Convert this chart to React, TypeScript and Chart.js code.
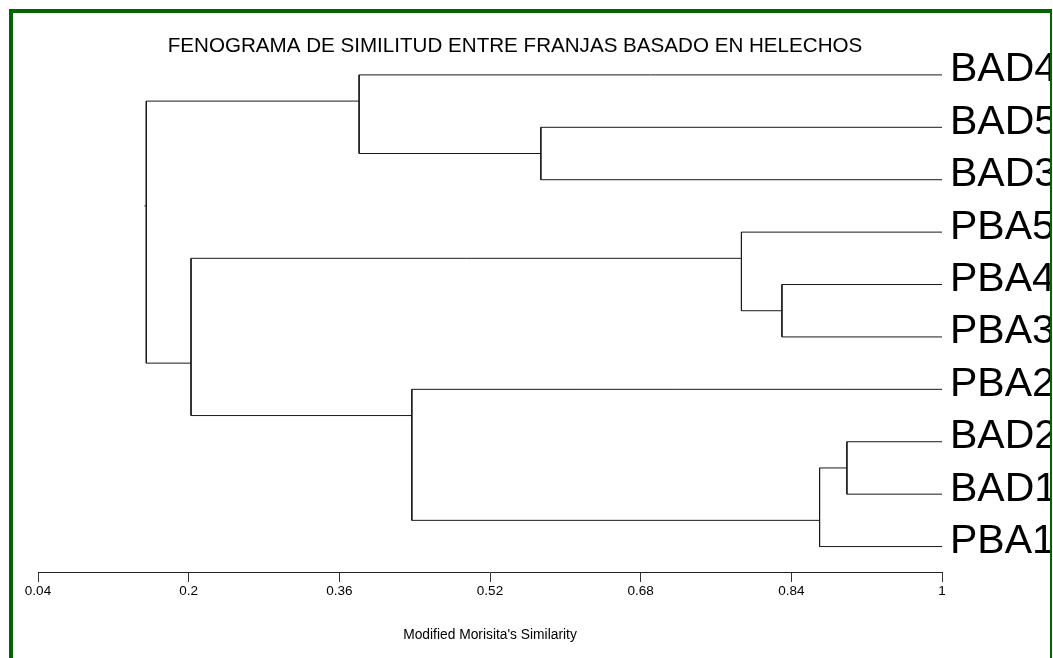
import React, { useEffect, useRef } from 'react';
import { Chart, registerables } from 'chart.js';

Chart.register(...registerables);

// ---- data ----
const leafLabels = ['BAD4', 'BAD5', 'BAD3', 'PBA5', 'PBA4', 'PBA3', 'PBA2', 'BAD2', 'BAD1', 'PBA1'];
// merges: children referenced as L<i> (leaf) or N<k> (earlier merge)
const mergeLeft = ['L1', 'L0', 'L4', 'L3', 'L7', 'N4', 'L6', 'N3', 'N1'];
const mergeRight = ['L2', 'N0', 'L5', 'N2', 'L8', 'L9', 'N5', 'N6', 'N7'];
const mergeSimilarity = [0.574, 0.381, 0.83, 0.787, 0.899, 0.87, 0.437, 0.2025, 0.155];
const tickValues = [0.04, 0.2, 0.36, 0.52, 0.68, 0.84, 1];
const tickLabels = ['0.04', '0.2', '0.36', '0.52', '0.68', '0.84', '1'];
const chartTitle = 'FENOGRAMA DE SIMILITUD ENTRE FRANJAS BASADO EN HELECHOS';
const axisTitle = "Modified Morisita's Similarity";

const FONT = '"Liberation Sans", Arial, sans-serif';
const LINE = '#1a1a1a';

type NodeInfo = { x: number; y: number; first: number; last: number };

function buildDatasets() {
  const info: Record<string, NodeInfo> = {};
  leafLabels.forEach((_, i) => {
    info['L' + i] = { x: 1, y: i, first: i, last: i };
  });
  const sets: any[] = [];
  mergeSimilarity.forEach((s, k) => {
    const a = info[mergeLeft[k]];
    const b = info[mergeRight[k]];
    const y = (a.last + b.first) / 2;
    info['N' + k] = { x: s, y, first: a.first, last: b.last };
    sets.push({
      data: [
        { x: a.x, y: a.y },
        { x: s, y: a.y },
        { x: s, y: b.y },
        { x: b.x, y: b.y },
      ],
    });
  });
  const root = info['N' + (mergeSimilarity.length - 1)];
  sets.push({ data: [{ x: root.x, y: root.y }, { x: root.x - 0.002, y: root.y }] });
  return sets.map((d) => ({
    ...d,
    showLine: true,
    borderColor: LINE,
    borderWidth: 1,
    pointRadius: 0,
    pointHoverRadius: 0,
    tension: 0,
    fill: false,
  }));
}

const decorPlugin = {
  id: 'decor',
  afterDraw(chart: any) {
    const ctx = chart.ctx as CanvasRenderingContext2D;
    const xs = chart.scales.x;
    const ys = chart.scales.y;
    ctx.save();
    // title
    ctx.fillStyle = '#000';
    ctx.font = `20.6px ${FONT}`;
    ctx.textAlign = 'center';
    ctx.textBaseline = 'alphabetic';
    ctx.fillText(chartTitle, 515, 52);
    // leaf labels
    ctx.beginPath();
    ctx.rect(0, 0, 1050, 658);
    ctx.clip();
    ctx.font = `41px ${FONT}`;
    ctx.textAlign = 'left';
    leafLabels.forEach((lab, i) => {
      ctx.fillText(lab, xs.getPixelForValue(1) + 8, ys.getPixelForValue(i) + 6.5);
    });
    ctx.restore();
    // frame
    ctx.save();
    ctx.fillStyle = '#006400';
    ctx.fillRect(9, 9, 4, 649);
    ctx.fillRect(9, 9, 1043, 4);
    ctx.fillRect(1050, 9, 2, 649);
    ctx.restore();
  },
};

export default function App() {
  const ref = useRef<HTMLCanvasElement | null>(null);
  useEffect(() => {
    if (!ref.current) return;
    const chart = new Chart(ref.current, {
      type: 'scatter',
      data: { datasets: buildDatasets() as any },
      plugins: [decorPlugin],
      options: {
        animation: false,
        responsive: false,
        events: [],
        layout: { padding: { left: 38, right: 111, top: 22.5, bottom: 14.24 } },
        plugins: { legend: { display: false }, title: { display: false }, tooltip: { enabled: false } },
        scales: {
          x: {
            type: 'linear',
            position: 'bottom',
            min: 0.04,
            max: 1,
            afterBuildTicks: (s: any) => {
              s.ticks = tickValues.map((v) => ({ value: v }));
            },
            ticks: {
              autoSkip: false,
              maxRotation: 0,
              padding: 1,
              color: '#000',
              font: { family: FONT, size: 13.5 },
              callback: (_v: any, i: number) => tickLabels[i],
            },
            grid: { drawOnChartArea: false, drawTicks: true, tickLength: 10, color: '#333', lineWidth: 1 },
            border: { display: true, color: '#222', width: 1 },
            title: {
              display: true,
              text: axisTitle,
              color: '#000',
              font: { family: FONT, size: 13.8 },
              padding: { top: 27, bottom: 0 },
            },
          },
          y: {
            type: 'linear',
            display: false,
            reverse: true,
            min: -1,
            max: 9.4857,
          },
        },
      } as any,
    });
    return () => chart.destroy();
  }, []);
  return (
    <div style={{ position: 'fixed', left: 0, top: 0, width: 1053, height: 658, background: '#fff' }}>
      <canvas ref={ref} width={1053} height={658} style={{ display: 'block' }} />
    </div>
  );
}
